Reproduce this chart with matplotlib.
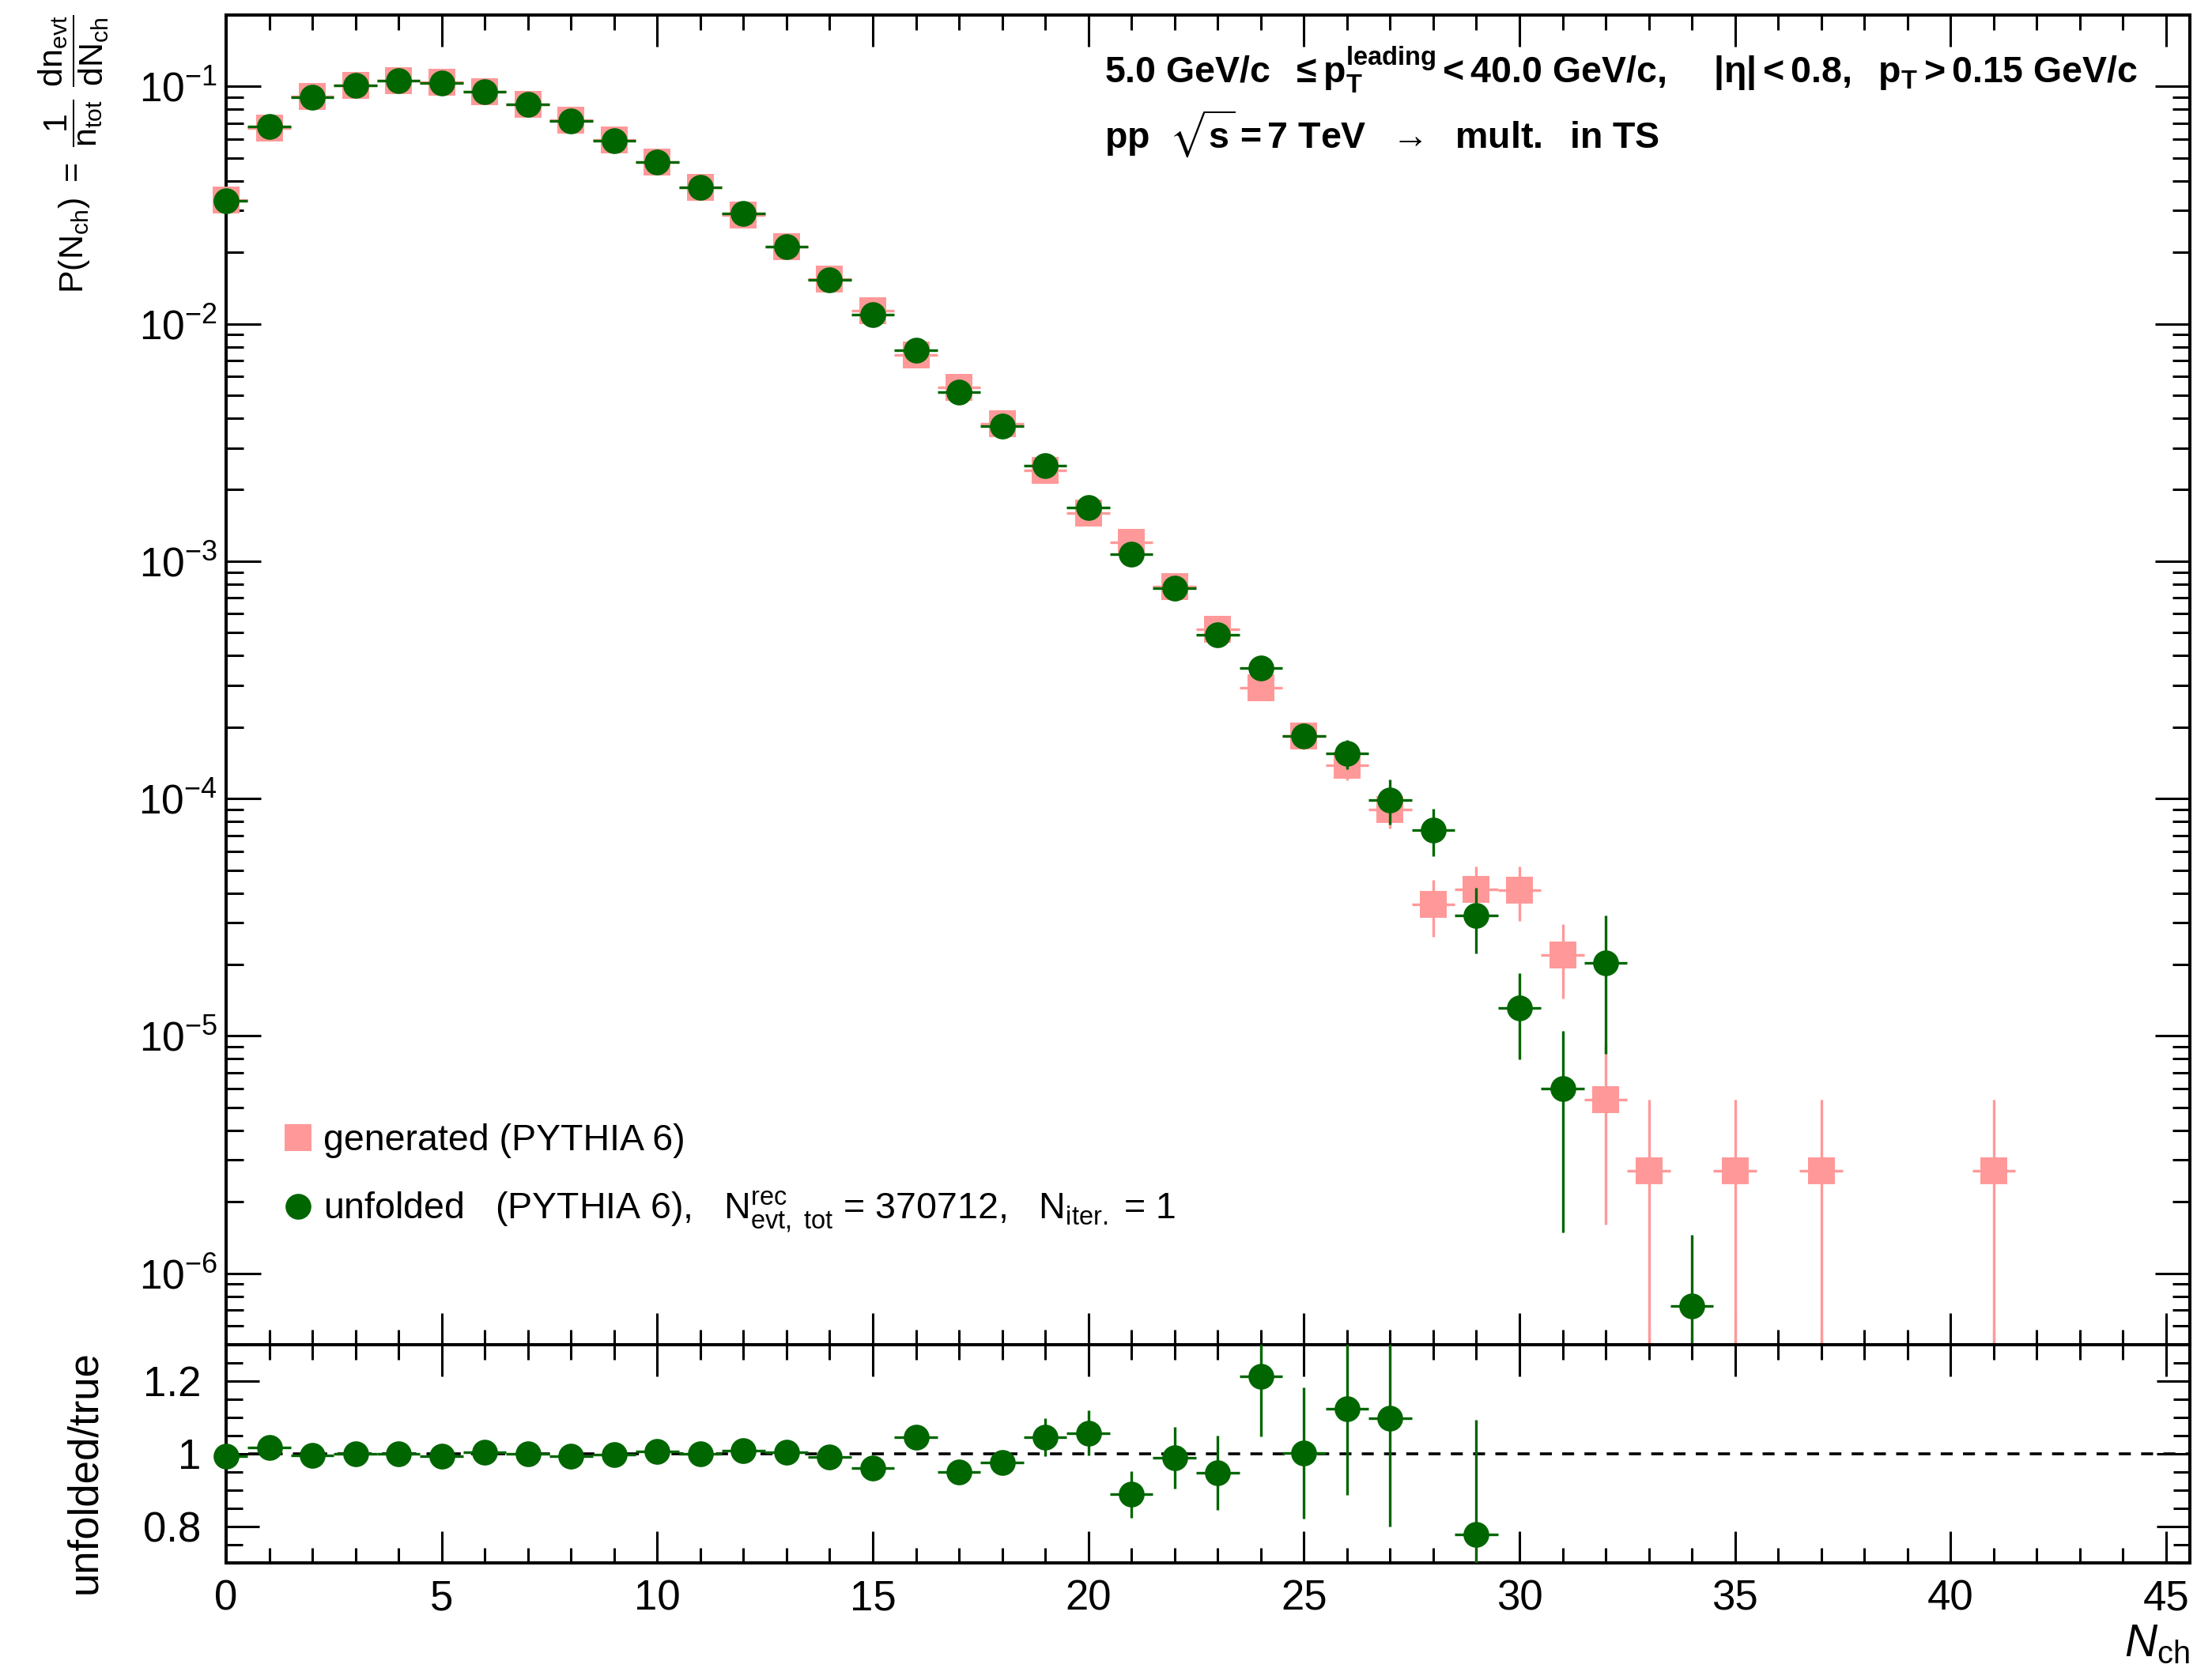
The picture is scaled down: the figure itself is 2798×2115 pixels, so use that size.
import numpy as np
import matplotlib
matplotlib.use('Agg')
from matplotlib import pyplot as plt
from matplotlib.lines import Line2D
from matplotlib.ticker import MultipleLocator, FixedLocator, FuncFormatter, LogLocator, NullFormatter

plt.rcParams['font.family'] = ['Liberation Sans', 'DejaVu Sans']
plt.rcParams['mathtext.fontset'] = 'custom'
plt.rcParams['mathtext.rm'] = 'Liberation Sans'
plt.rcParams['mathtext.it'] = 'Liberation Sans:italic'
plt.rcParams['mathtext.bf'] = 'Liberation Sans:bold'
plt.rcParams['mathtext.default'] = 'rm'
plt.rcParams['mathtext.fallback'] = 'stixsans'

# unfolded (PYTHIA 6)
n_unf = [0, 1, 2, 3, 4, 5, 6, 7, 8, 9, 10, 11, 12, 13, 14, 15, 16, 17, 18, 19,
         20, 21, 22, 23, 24, 25, 26, 27, 28, 29, 30, 31, 32, 34]
p_unf = [0.0329, 0.0678, 0.0903, 0.1007, 0.106, 0.1035, 0.0953, 0.0843, 0.0716, 0.0592,
         0.0482, 0.0377, 0.0291, 0.0212, 0.0153, 0.0109, 0.00774, 0.00514, 0.00371, 0.00253,
         0.00168, 0.00107, 0.000771, 0.000491, 0.000355, 0.000184, 0.000155, 9.89e-5, 7.38e-5, 3.22e-5,
         1.315e-5, 5.98e-6, 2.03e-5, 7.26e-7]
p_unf_err = [2e-4, 3e-4, 3e-4, 3e-4, 3e-4, 3e-4, 3e-4, 3e-4, 3e-4, 3e-4,
             3e-4, 2e-4, 2e-4, 2e-4, 2e-4, 2e-4, 1.5e-4, 1.3e-4, 1.1e-4, 9e-5,
             7e-5, 5.5e-5, 5e-5, 4e-5, 3.5e-5, 2e-5, 2.2e-5, 2.1e-5, 1.65e-5, 1.0e-5,
             5.2e-6, 4.5e-6, 1.19e-5, 7.3e-7]

# generated (PYTHIA 6)
n_gen = [0, 1, 2, 3, 4, 5, 6, 7, 8, 9, 10, 11, 12, 13, 14, 15, 16, 17, 18, 19,
         20, 21, 22, 23, 24, 25, 26, 27, 28, 29, 30, 31, 32, 33, 35, 37, 41]
p_gen = [0.03313, 0.06667, 0.09066, 0.1007, 0.10589, 0.10423, 0.09492, 0.0843, 0.07203, 0.05932,
         0.04786, 0.0377, 0.02884, 0.02109, 0.01544, 0.01135, 0.0074, 0.005416, 0.003801, 0.002421,
         0.001589, 0.001204, 0.00078, 0.000518, 0.000292, 0.0001836, 0.000138, 9.01e-5, 3.59e-5, 4.14e-5,
         4.11e-5, 2.2e-5, 5.4e-6, 2.7e-6, 2.7e-6, 2.7e-6, 2.7e-6]
p_gen_err = [3e-4, 4.2e-4, 4.9e-4, 5.2e-4, 5.3e-4, 5.3e-4, 5.1e-4, 4.8e-4, 4.4e-4, 4e-4,
             3.6e-4, 3.2e-4, 2.8e-4, 2.4e-4, 2e-4, 1.75e-4, 1.4e-4, 1.2e-4, 1.0e-4, 8e-5,
             6.5e-5, 5.7e-5, 4.6e-5, 3.7e-5, 2.8e-5, 2.2e-5, 1.9e-5, 1.55e-5, 9.7e-6, 1.05e-5,
             1.05e-5, 7.6e-6, 3.8e-6, 2.7e-6, 2.7e-6, 2.7e-6, 2.7e-6]

# unfolded/true
n_ratio = [0, 1, 2, 3, 4, 5, 6, 7, 8, 9, 10, 11, 12, 13, 14, 15, 16, 17, 18, 19,
           20, 21, 22, 23, 24, 25, 26, 27, 29]
ratio = [0.993, 1.017, 0.996, 1.0, 1.001, 0.993, 1.004, 1.0, 0.994, 0.998,
         1.007, 1.0, 1.009, 1.005, 0.991, 0.96, 1.046, 0.949, 0.976, 1.045,
         1.057, 0.889, 0.989, 0.947, 1.214, 1.002, 1.123, 1.098, 0.778]
ratio_err = [0.005, 0.005, 0.005, 0.005, 0.005, 0.005, 0.005, 0.005, 0.005, 0.005,
             0.008, 0.008, 0.008, 0.008, 0.012, 0.018, 0.022, 0.027, 0.033, 0.052,
             0.062, 0.064, 0.084, 0.102, 0.167, 0.18, 0.235, 0.297, 0.315]

green = '#006600'
pink = '#ff9999'

W, H = 2798, 2115
fig = plt.figure(figsize=(W / 100, H / 100), dpi=100)
ax = fig.add_axes([286 / W, 1 - 1701 / H, (2770 - 286) / W, (1701 - 19) / H])
axr = fig.add_axes([286 / W, 1 - 1977 / H, (2770 - 286) / W, (1977 - 1701) / H], sharex=ax)

ax.set_yscale('log')
ax.set_xlim(0, 45.55)
ax.set_ylim(5e-7, 0.2)
axr.set_ylim(0.7, 1.3)

# top panel
ax.errorbar(n_gen, p_gen, xerr=0.5, yerr=p_gen_err, fmt='none', ecolor=pink,
            elinewidth=2.4, capsize=0, zorder=2)
ax.plot(n_gen, p_gen, 's', color=pink, ms=24.5, mew=0, clip_on=False, zorder=3)
ax.errorbar(n_unf, p_unf, xerr=0.5, yerr=p_unf_err, fmt='none', ecolor=green,
            elinewidth=2.4, capsize=0, zorder=4)
ax.plot(n_unf, p_unf, 'o', color=green, ms=23.5, mew=0, clip_on=False, zorder=5)

# ratio panel
axr.axhline(1.0, color='k', lw=2.6, ls=(0, (4.2, 3.6)), zorder=1)
axr.errorbar(n_ratio, ratio, xerr=0.5, yerr=ratio_err, fmt='none', ecolor=green,
             elinewidth=2.4, capsize=0, zorder=4)
axr.plot(n_ratio, ratio, 'o', color=green, ms=23.5, mew=0, clip_on=False, zorder=5)

# axes style
for a in (ax, axr):
    for s in a.spines.values():
        s.set_linewidth(2.9)
    a.tick_params(which='both', direction='in', top=True, right=True, width=2.2)
    a.tick_params(axis='x', which='major', length=29)
    a.tick_params(axis='x', which='minor', length=14)
ax.xaxis.set_major_locator(MultipleLocator(5))
ax.xaxis.set_minor_locator(MultipleLocator(1))
ax.yaxis.set_major_locator(LogLocator(base=10, numticks=100))
ax.yaxis.set_minor_locator(LogLocator(base=10, subs=np.arange(2, 10), numticks=100))
ax.yaxis.set_minor_formatter(NullFormatter())
ax.tick_params(axis='y', which='major', length=32, labelsize=37, pad=8)
ax.tick_params(axis='y', which='minor', length=16)
ax.tick_params(axis='x', labelbottom=False)

axr.yaxis.set_major_locator(FixedLocator([0.8, 1.0, 1.2]))
axr.yaxis.set_minor_locator(MultipleLocator(0.05))
axr.yaxis.set_major_formatter(FuncFormatter(lambda v, p: f'{v:g}'))
axr.tick_params(axis='x', labelsize=38, pad=15)
axr.tick_params(axis='y', which='major', length=30, labelsize=38, pad=23)
axr.tick_params(axis='y', which='minor', length=15)

# labels
fig.text(106 / W, 1 - 18 / H,
         r'$P(N_{ch})\ =\ \dfrac{1}{n_{tot}}\ \dfrac{dn_{evt}}{dN_{ch}}$',
         rotation=90, rotation_mode='anchor', ha='right', va='baseline', fontsize=31)
fig.text(121 / W, 1 - 1862 / H, 'unfolded/true', rotation=90, rotation_mode='anchor',
         ha='center', va='baseline', fontsize=38)
fig.text(2770 / W, 1 - 2095 / H, r'$\mathit{N}_{ch}$', ha='right', va='baseline', fontsize=41)

fig.text(1397 / W, 1 - 105 / H,
         r'$\mathbf{5.0\ GeV/c\ \ \leq p_{T}^{leading} < 40.0\ GeV/c,\ \ \ \ |\eta| < 0.8,\ \ p_{T} > 0.15\ GeV/c}$',
         ha='left', va='baseline', fontsize=33.5)
fig.text(1397 / W, 1 - 188 / H,
         r'$\mathbf{pp\ \ \sqrt{s} = 7\ TeV\ \ \rightarrow\ \ mult.\ \ in\ TS}$',
         ha='left', va='baseline', fontsize=33.5)

handles = [Line2D([], [], ls='none', marker='s', color=pink, ms=24.5, mew=0),
           Line2D([], [], ls='none', marker='o', color=green, ms=23.5, mew=0)]
labels = ['generated (PYTHIA 6)',
          r'unfolded   (PYTHIA 6),   $N^{rec}_{evt,\ tot}$ = 370712,   $N_{iter.}$ = 1']
ax.legend(handles, labels, loc='upper left', bbox_to_anchor=(360 / W, 1 - 1421 / H),
          bbox_transform=fig.transFigure, frameon=False, fontsize=33.5,
          handlelength=0.75, handletextpad=0.3, labelspacing=0.85, borderpad=0, borderaxespad=0)

fig.savefig('out.png', dpi=100)
